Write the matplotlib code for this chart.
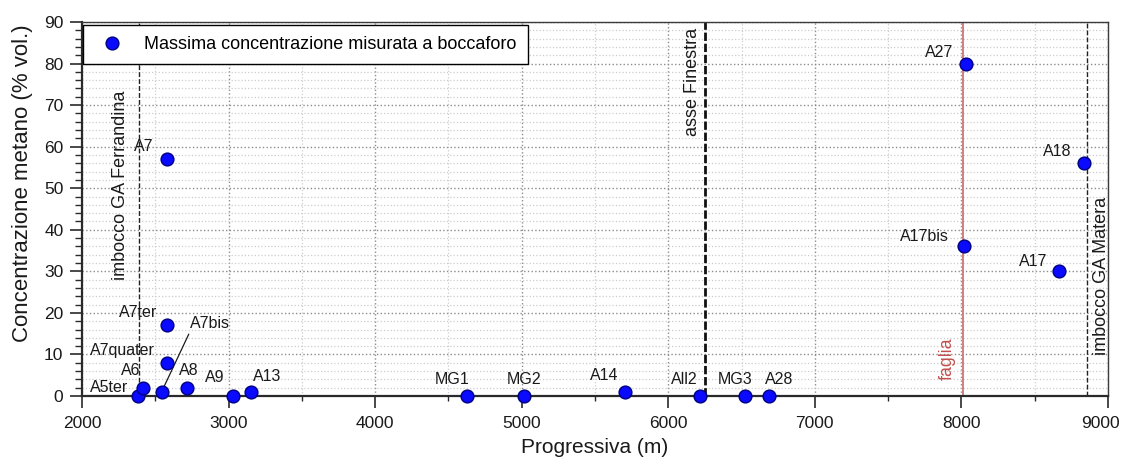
import matplotlib
matplotlib.use("Agg")
import matplotlib.pyplot as plt
import matplotlib.transforms as mtransforms
from matplotlib.ticker import MultipleLocator

plt.rcParams['font.family'] = ['Liberation Sans', 'DejaVu Sans']

# Boreholes: chainage along the tunnel (m) and peak methane at the borehole mouth (% vol.)
names = ["A5ter", "A6", "A7bis", "A7quater", "A7ter", "A7", "A8", "A9", "A13",
         "MG1", "MG2", "A14", "All2", "MG3", "A28", "A17bis", "A27", "A17", "A18"]
progressiva = [2384, 2418, 2543, 2577, 2577, 2577, 2718, 3028, 3151,
               4625, 5014, 5704, 6215, 6523, 6686, 8016, 8028, 8664, 8838]
concentrazione = [0, 2, 1, 8, 17, 57, 2, 0, 1,
                  0, 0, 1, 0, 0, 0, 36, 80, 30, 56]

# Reference sections along the alignment
ref_names = ["imbocco GA Ferrandina", "asse Finestra", "faglia", "imbocco GA Matera"]
ref_progressiva = [2391, 6250, 8012, 8855]

x_ticks = [2000, 3000, 4000, 5000, 6000, 7000, 8000, 9000]

legend_label = "Massima concentrazione misurata a boccaforo"
x_label = "Progressiva (m)"
y_label = "Concentrazione metano (% vol.)"

# label placement: offset from the marker in pixels (right, up) and horizontal alignment
label_place = {
    "A5ter": (-10, 8, "right"), "A6": (-3, 17, "right"), "A7quater": (-12, 12, "right"),
    "A7ter": (-9, 12.5, "right"), "A7": (-13, 12.5, "right"), "A8": (2, 17, "center"),
    "A9": (-8, 18, "right"), "A13": (2, 15, "left"), "MG1": (-15, 16, "center"),
    "MG2": (0, 16, "center"), "A14": (-6, 16, "right"), "All2": (-2, 17, "right"),
    "MG3": (-10, 17, "center"), "A28": (10, 17, "center"), "A17bis": (-15, 9.5, "right"),
    "A27": (-12, 11, "right"), "A17": (-11, 9.5, "right"), "A18": (-12.5, 11.5, "right"),
}
PX = 0.72  # points per pixel at 100 dpi

W, H = 1122, 463
fig = plt.figure(figsize=(W / 100, H / 100), dpi=100)
ax = fig.add_axes([82 / W, 1 - 396 / H, 1026 / W, 374 / H])

ax.set_xlim(2000, 9000)
ax.set_ylim(0, 90)
ax.set_xticks(x_ticks)
ax.xaxis.set_minor_locator(MultipleLocator(500))
ax.yaxis.set_major_locator(MultipleLocator(10))
ax.yaxis.set_minor_locator(MultipleLocator(2))

ax.grid(which="major", ls=":", color="#8c8c8c", lw=1.0, zorder=0)
ax.grid(which="minor", ls=":", color="#cdcdcd", lw=0.9, zorder=0)
ax.set_axisbelow(True)

# reference sections
line_styles = {
    "imbocco GA Ferrandina": dict(color="#222222", lw=1.0, ls=(0, (3.5, 1.5))),
    "asse Finestra": dict(color="#111111", lw=2.0, ls=(0, (3, 1))),
    "faglia": dict(color="#d08080", lw=1.4, ls="-"),
    "imbocco GA Matera": dict(color="#222222", lw=1.0, ls=(0, (3.5, 1.5))),
}
for nm, xv in zip(ref_names, ref_progressiva):
    ax.axvline(xv, zorder=2, **line_styles[nm])

tkw = dict(rotation=90, fontsize=13, color="#1a1a1a", zorder=3)
ax.annotate(ref_names[0], (ref_progressiva[0], 50.6), xytext=(-10 * PX, 0),
            textcoords="offset points", ha="right", va="center", **tkw)
ax.annotate(ref_names[1], (ref_progressiva[1], 88.5), xytext=(-3.5 * PX, 0),
            textcoords="offset points", ha="right", va="top", **tkw)
ax.annotate(ref_names[2], (ref_progressiva[2], 3.8), xytext=(-7 * PX, 0),
            textcoords="offset points", ha="right", va="bottom",
            rotation=90, fontsize=12.8, color="#c0504d", zorder=3)
ax.annotate(ref_names[3], (ref_progressiva[3], 9.9), xytext=(6.5 * PX, 0),
            textcoords="offset points", ha="left", va="bottom", **tkw)

# measurements
ax.plot(progressiva, concentrazione, ls="none", marker="o", ms=9.2,
        mfc="#0a0aff", mec="#000080", mew=1.0, zorder=5, clip_on=False,
        label=legend_label)

for nm, xv, yv in zip(names, progressiva, concentrazione):
    if nm == "A7bis":
        ax.annotate(nm, (xv, yv), xytext=(28.5 * PX, 68 * PX), textcoords="offset points",
                    ha="left", va="center", fontsize=11.5, color="#1a1a1a", zorder=4,
                    arrowprops=dict(arrowstyle="-", color="#1a1a1a", lw=0.9,
                                    relpos=(0, 0), shrinkA=0, shrinkB=2))
        continue
    dx, dy, ha = label_place[nm]
    ax.annotate(nm, (xv, yv), xytext=(dx * PX, dy * PX), textcoords="offset points",
                ha=ha, va="center", fontsize=11.5, color="#1a1a1a", zorder=4)

# axes frame and ticks
for side in ("left", "bottom"):
    ax.spines[side].set_linewidth(1.6)
    ax.spines[side].set_color("#2a2a2a")
for side in ("top", "right"):
    ax.spines[side].set_linewidth(1.0)
    ax.spines[side].set_color("#3a3a3a")

ax.tick_params(which="major", direction="out", length=8.6, width=1.2,
               color="#2a2a2a", labelsize=12.5, labelcolor="#1a1a1a")
ax.tick_params(axis="x", which="major", pad=6)
ax.tick_params(axis="y", which="major", pad=4.8)
ax.tick_params(axis="x", which="minor", direction="out", length=3.8, width=1.0, color="#2a2a2a")
ax.tick_params(axis="y", which="minor", direction="out", length=5.0, width=1.0, color="#2a2a2a")

ax.set_xlabel(x_label, fontsize=15, color="#1a1a1a")
ax.set_ylabel(y_label, fontsize=16, color="#1a1a1a")
ax.xaxis.set_label_coords(0.5, -0.112)
ax.yaxis.set_label_coords(-0.048, 0.57)

# keep the last x tick label inside the canvas
fig.canvas.draw()
for tick in ax.xaxis.get_major_ticks():
    if tick.get_loc() == x_ticks[-1]:
        lab = tick.label1
        lab.set_transform(lab.get_transform() +
                          mtransforms.ScaledTranslation(-8 / 100, 0, fig.dpi_scale_trans))

leg = ax.legend(loc="upper left", bbox_to_anchor=(1 / 1026, 1 - 3 / 374),
                borderaxespad=0, fontsize=13, frameon=True, fancybox=False,
                framealpha=1, edgecolor="black", borderpad=0.6,
                handlelength=2.0, handletextpad=0.8, numpoints=1)
leg.get_frame().set_linewidth(1.0)
leg.set_zorder(10)

fig.savefig("out.png", dpi=100)
